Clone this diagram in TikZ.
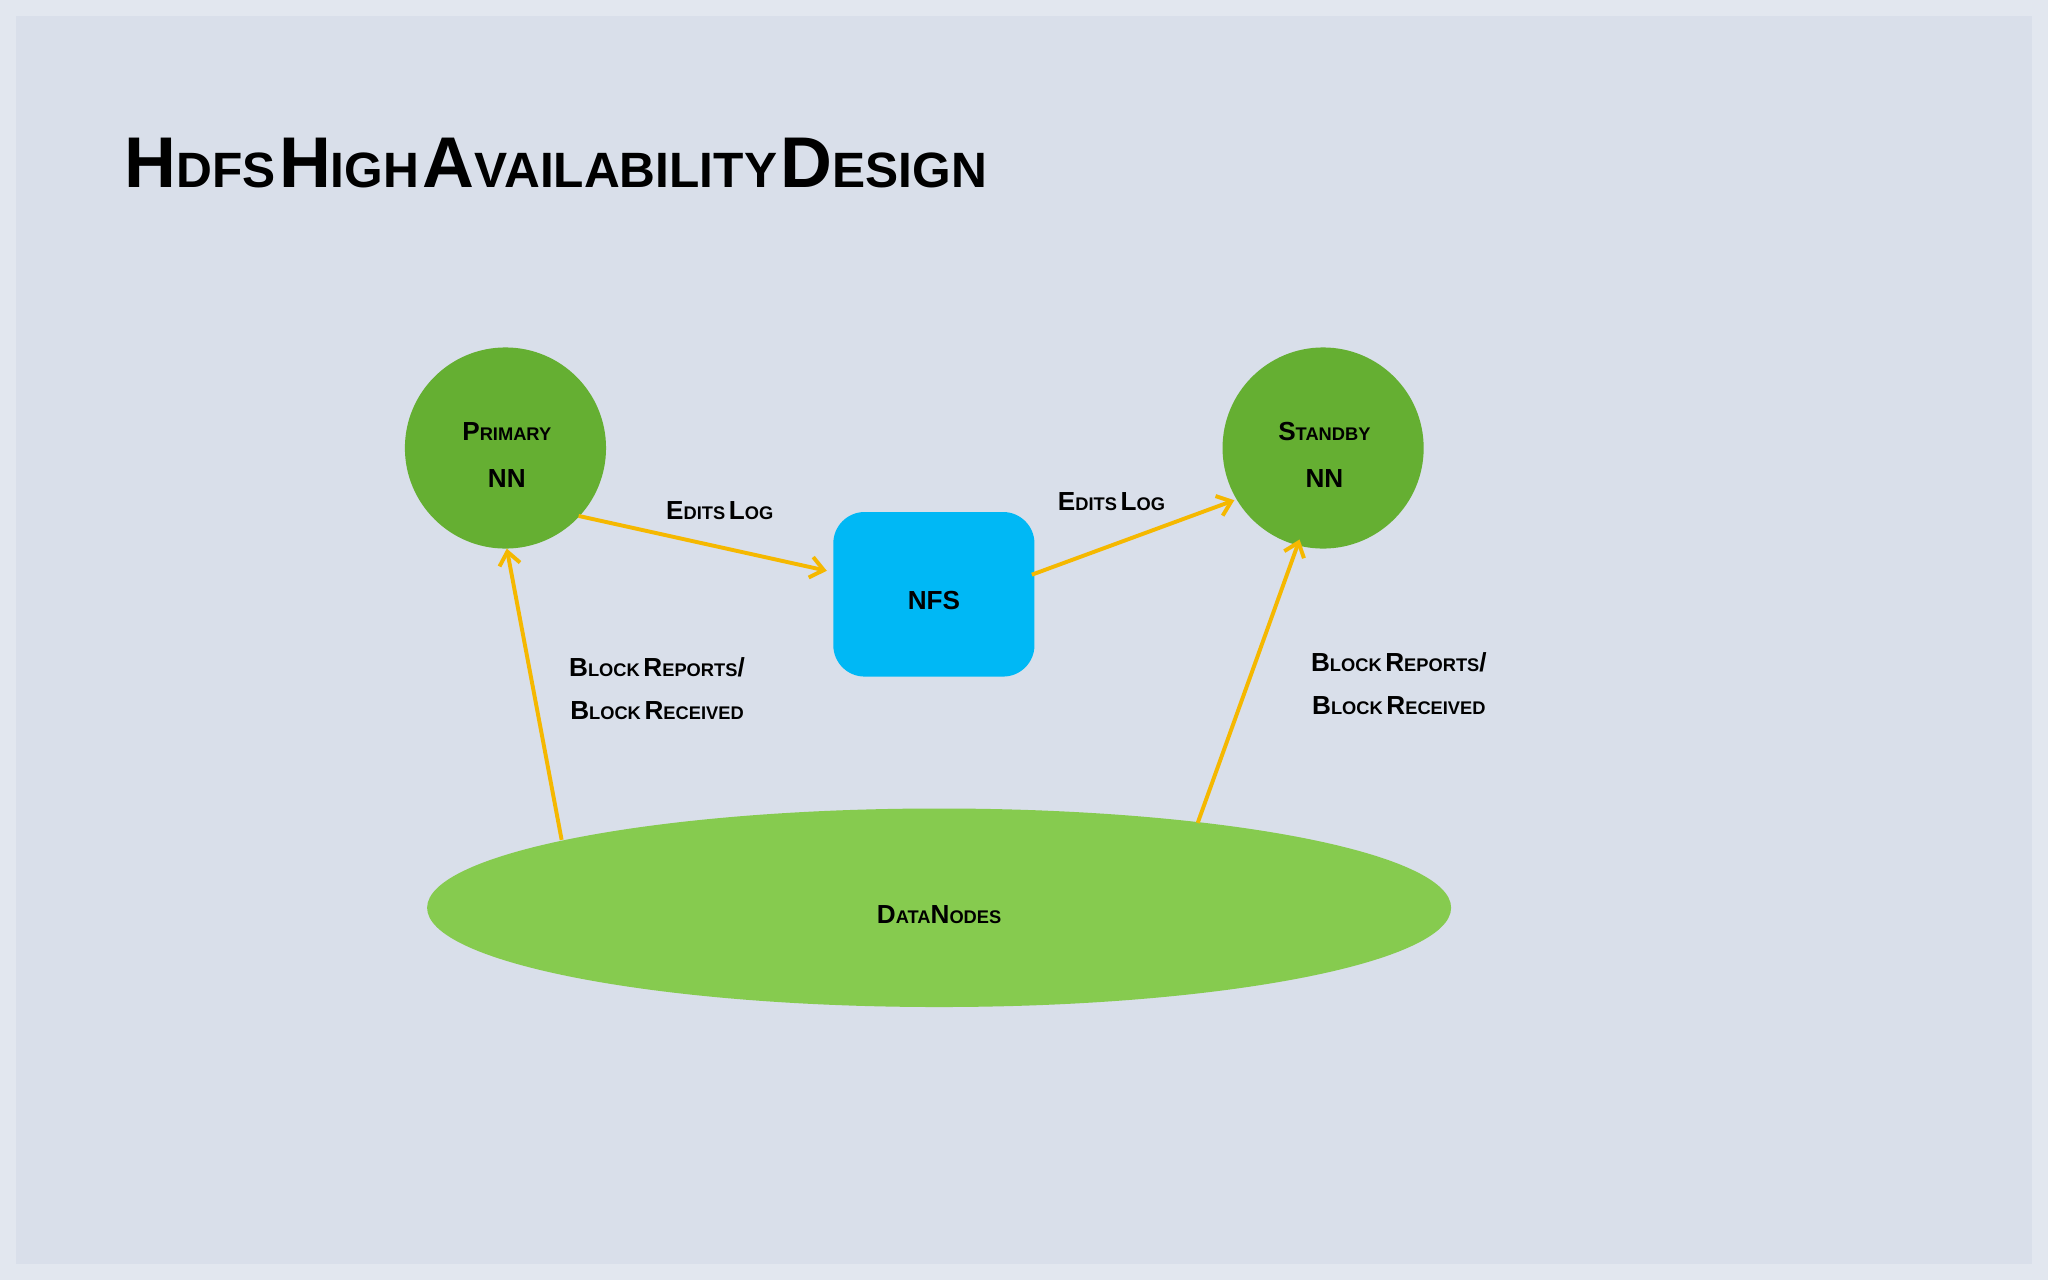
\documentclass[tikz,border=0pt]{standalone}
\usepackage{fontspec}
\setmainfont{Liberation Sans}
\usetikzlibrary{arrows.meta,shapes.geometric}
\definecolor{bgout}{HTML}{E2E7EF}
\definecolor{bgin}{HTML}{D9DFEA}
\definecolor{nngreen}{HTML}{65AF32}
\definecolor{dngreen}{HTML}{86CB4F}
\definecolor{nfsblue}{HTML}{00B8F5}
\definecolor{arr}{HTML}{F5B800}
\newcommand\tb[1]{{\fontsize{55}{60}\selectfont #1}}
\newcommand\ts[1]{{\fontsize{38}{40}\selectfont #1}}
\newcommand\lb[1]{{\fontsize{20}{22}\selectfont #1}}
\newcommand\ls[1]{{\fontsize{14}{16}\selectfont #1}}
\tikzset{
  lbl/.style={font=\bfseries, inner sep=0pt, text=black},
  conn/.style={draw=arr, line width=3pt, -{Straight Barb[length=10pt,width=16pt,line width=3pt]}},
}
\begin{document}
\begin{tikzpicture}[x=1pt,y=-1pt]
\fill[bgout] (0,0) rectangle (1568,980);
\fill[bgin] (12,12) rectangle (1556,968);
\useasboundingbox (0,0) rectangle (1568,980);
\node[lbl, anchor=west] (title) at (95,125) {\tb{H}\ts{DFS} \tb{H}\ts{IGH} \tb{A}\ts{VAILABILITY} \tb{D}\ts{ESIGN}};
\node[circle, fill=nngreen, minimum size=154pt, inner sep=0pt] (pri) at (387,343) {};
\node[lbl] at (388,330) {\lb{P}\ls{RIMARY}};
\node[lbl] at (388,366) {\lb{NN}};
\node[circle, fill=nngreen, minimum size=154pt, inner sep=0pt] (stb) at (1013,343) {};
\node[lbl] at (1014,330) {\lb{S}\ls{TANDBY}};
\node[lbl] at (1014,366) {\lb{NN}};
\node[rectangle, rounded corners=24pt, fill=nfsblue, minimum width=154pt, minimum height=126pt, inner sep=0pt] (nfs) at (715,455) {};
\node[lbl] at (715,460) {\lb{NFS}};
\node[ellipse, fill=dngreen, minimum width=784pt, minimum height=152pt, inner sep=0pt] (dn) at (719,695) {};
\node[lbl] at (719,700) {\lb{D}\ls{ATA}\lb{N}\ls{ODES}};
\coordinate (a1) at (443,395); \coordinate (a2) at (633,437);
\coordinate (b1) at (790,440); \coordinate (b2) at (945,383);
\coordinate (c1) at (430,643); \coordinate (c2) at (388,420);
\coordinate (d1) at (917,630); \coordinate (d2) at (995,413);
\draw[conn] (a1) -- (a2);
\draw[conn] (b1) -- (b2);
\draw[conn] (c1) -- (c2);
\draw[conn] (d1) -- (d2);
\node[lbl] (e1) at (551,391) {\lb{E}\ls{DITS} \lb{L}\ls{OG}};
\node[lbl] (e2) at (851,384) {\lb{E}\ls{DITS} \lb{L}\ls{OG}};
\node[lbl] (r1) at (503,511) {\lb{B}\ls{LOCK} \lb{R}\ls{EPORTS}\lb{/}};
\node[lbl] (r2) at (503,544) {\lb{B}\ls{LOCK} \lb{R}\ls{ECEIVED}};
\node[lbl] (r3) at (1071,507) {\lb{B}\ls{LOCK} \lb{R}\ls{EPORTS}\lb{/}};
\node[lbl] (r4) at (1071,540) {\lb{B}\ls{LOCK} \lb{R}\ls{ECEIVED}};
\end{tikzpicture}
\end{document}
